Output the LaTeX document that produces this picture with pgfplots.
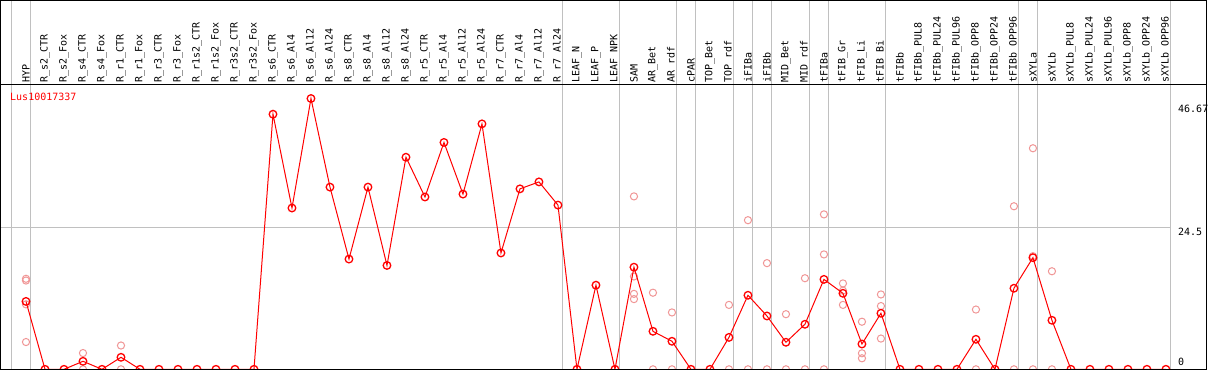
\documentclass[border=0pt]{standalone}
\usepackage{fontspec}
\setmainfont{DejaVu Sans Mono}
\usepackage{pgfplots}
\pgfplotsset{compat=1.18}
\definecolor{gridgray}{RGB}{192,192,192}
\definecolor{repred}{RGB}{240,150,150}
\definecolor{mainred}{RGB}{255,0,0}
\newcommand{\lblfont}{\fontsize{10}{10}\selectfont}
\begin{document}
\begin{tikzpicture}
\useasboundingbox (0,0) rectangle (1209pt,370pt);
\begin{axis}[
  name=main, at={(0pt,0.7pt)}, anchor=south west,
  scale only axis, width=1170.7pt, height=284.3pt,
  xmin=-1.3684, xmax=60.25, ymin=0, ymax=49,
  axis line style={draw=none},
  xtick={0,...,60},
  xticklabels={HYP,R\_s2\_CTR,R\_s2\_Fox,R\_s4\_CTR,R\_s4\_Fox,R\_r1\_CTR,R\_r1\_Fox,R\_r3\_CTR,R\_r3\_Fox,R\_r1s2\_CTR,R\_r1s2\_Fox,R\_r3s2\_CTR,R\_r3s2\_Fox,R\_s6\_CTR,R\_s6\_Al4,R\_s6\_Al12,R\_s6\_Al24,R\_s8\_CTR,R\_s8\_Al4,R\_s8\_Al12,R\_s8\_Al24,R\_r5\_CTR,R\_r5\_Al4,R\_r5\_Al12,R\_r5\_Al24,R\_r7\_CTR,R\_r7\_Al4,R\_r7\_Al12,R\_r7\_Al24,LEAF\_N,LEAF\_P,LEAF\_NPK,SAM,AR\_Bet,AR\_rdf,cPAR,TOP\_Bet,TOP\_rdf,iFIBa,iFIBb,MID\_Bet,MID\_rdf,tFIBa,tFIB\_Gr,tFIB\_Li,tFIB\_Bi,tFIBb,tFIBb\_PUL8,tFIBb\_PUL24,tFIBb\_PUL96,tFIBb\_OPP8,tFIBb\_OPP24,tFIBb\_OPP96,sXYLa,sXYLb,sXYLb\_PUL8,sXYLb\_PUL24,sXYLb\_PUL96,sXYLb\_OPP8,sXYLb\_OPP24,sXYLb\_OPP96},
  xticklabel pos=right,
  xticklabel style={rotate=90, anchor=west, inner sep=0pt, font=\lblfont},
  xticklabel shift=2pt,
  major tick length=0pt,
  ytick={44.97,23.72,1.26}, yticklabels={46.67,24.5,0},
  yticklabel pos=right,
  yticklabel style={anchor=west, inner sep=0pt, font=\lblfont},
  yticklabel shift=7.3pt,
  clip mode=individual, clip marker paths=true,
]
\pgfplotsinvokeforeach{-0.75,0.25,28.25,31.25,34.25,35.25,37.25,38.25,39.25,41.25,42.25,45.25,52.25,53.25,60.25}{
  \draw[gridgray, line width=1pt] (axis cs:#1,0) -- (axis cs:#1,63.65);
}
\draw[gridgray, line width=1pt] (axis cs:-1.3684,24.5) -- (axis cs:60.25,24.5);

% replicate measurements
\addplot[only marks, mark=o, mark size=3.6pt, mark options={draw=repred, line width=1pt}] coordinates {
 (0,15.6) (0,15.3) (0,11.2) (0,4.7)
 (3,2.8) (3,0)
 (5,4.1) (5,0)
 (32,29.8) (32,16.0) (32,13.0) (32,12.1)
 (33,13.2) (33,0)
 (34,9.8) (34,0)
 (37,11.1) (37,0)
 (38,25.7) (38,0)
 (39,18.3) (39,0)
 (40,9.5) (40,0)
 (41,15.7) (41,0)
 (42,26.7) (42,19.8) (42,0)
 (43,14.8) (43,13.55) (43,11.1)
 (44,8.2) (44,2.76) (44,1.9)
 (45,12.9) (45,10.9) (45,5.3)
 (50,10.3) (50,0)
 (52,28.1) (52,0)
 (53,38.1) (53,19.5) (53,0)
 (54,16.9) (54,0)
};

% mean profile
\addplot[mainred, line width=1pt, mark=o, mark size=3.8pt, mark options={draw=mainred, line width=1.3pt}] coordinates {
 (0,11.7) (1,0) (2,0) (3,1.38) (4,0) (5,2.07) (6,0) (7,0) (8,0) (9,0) (10,0) (11,0) (12,0)
 (13,43.97) (14,27.8) (15,46.67) (16,31.4) (17,19.0) (18,31.4) (19,17.9) (20,36.55)
 (21,29.7) (22,39.1) (23,30.2) (24,42.3) (25,20.05) (26,31.1) (27,32.3) (28,28.3)
 (29,0) (30,14.5) (31,0) (32,17.6) (33,6.55) (34,4.83) (35,0) (36,0) (37,5.5)
 (38,12.76) (39,9.19) (40,4.66) (41,7.76) (42,15.5) (43,13.1) (44,4.36) (45,9.66)
 (46,0) (47,0) (48,0) (49,0) (50,5.17) (51,0) (52,13.97) (53,19.24) (54,8.45)
 (55,0) (56,0) (57,0) (58,0) (59,0) (60,0)
};
\end{axis}
\draw[black, line width=1pt] (0.5pt,0.7pt) -- (0.5pt,369.5pt) -- (1206.7pt,369.5pt) -- (1206.7pt,0.7pt);
\draw[black, line width=1pt] (0pt,0.9pt) -- (1207.2pt,0.9pt);
\draw[black, line width=1pt] (0pt,285pt) -- (1207.2pt,285pt);
\node[anchor=west, text=mainred, inner sep=0pt, font=\lblfont] at (10pt,273.5pt) {Lus10017337};
\end{tikzpicture}
\end{document}
